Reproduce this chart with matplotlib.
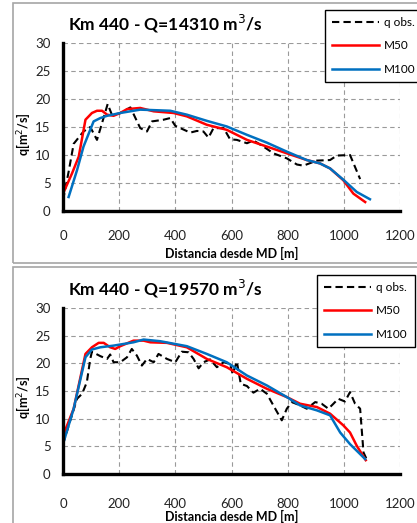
import matplotlib
matplotlib.use("Agg")
import matplotlib.pyplot as plt
from matplotlib.patches import Rectangle

plt.rcParams['font.family'] = ['Lato', 'DejaVu Sans']

# ---- data: top panel (Q=14310) ----
top_title = "Km 440 - Q=14310 m$^3$/s"
top_obs_x = [0, 20, 38, 73, 97, 121, 139, 159, 174, 200, 240, 275, 299, 317, 358, 382, 400,
             453, 477, 500, 518, 536, 572, 595, 619, 655, 678, 714, 749, 797, 833, 856, 904,
             951, 975, 1022, 1058]
top_obs_y = [1.9, 7.0, 12.0, 14.2, 15.0, 12.7, 15.7, 19.1, 17.2, 17.4, 18.5, 14.8, 14.2, 16.0,
             16.3, 16.6, 15.2, 14.0, 14.3, 14.2, 13.1, 14.8, 14.8, 12.8, 12.7, 12.1, 12.6, 11.5,
             10.3, 9.4, 8.3, 8.1, 9.0, 9.1, 9.9, 10.0, 5.7]
top_m50_x = [0, 32, 56, 80, 103, 121, 139, 157, 180, 204, 228, 275, 323, 394, 441, 512, 583,
             655, 726, 797, 868, 915, 951, 998, 1034, 1076]
top_m50_y = [3.1, 6.7, 9.7, 16.3, 17.5, 17.9, 17.9, 17.2, 17.0, 17.5, 18.2, 18.4, 17.8, 17.5,
             16.9, 15.4, 14.5, 12.7, 11.5, 10.3, 9.1, 8.5, 7.6, 5.5, 3.1, 1.6]
top_m100_x = [20, 50, 73, 97, 109, 133, 157, 204, 275, 382, 441, 512, 583, 655, 726, 797, 868,
              915, 951, 998, 1046, 1093]
top_m100_y = [2.5, 7.3, 11.5, 14.5, 16.0, 16.6, 17.0, 17.5, 18.1, 17.9, 17.2, 16.1, 15.1, 13.6,
              12.2, 10.6, 9.1, 8.5, 7.6, 5.6, 3.4, 2.1]

# ---- data: bottom panel (Q=19570) ----
bot_title = "Km 440 - Q=19570 m$^3$/s"
bot_obs_x = [0, 20, 50, 68, 85, 97, 103, 133, 157, 168, 180, 204, 228, 245, 263, 281, 299, 323,
             340, 370, 400, 423, 447, 465, 483, 500, 524, 548, 572, 595, 604, 619, 633, 655, 678,
             702, 726, 749, 779, 797, 815, 844, 868, 898, 921, 945, 963, 980, 1004, 1022, 1040,
             1058, 1070, 1081]
bot_obs_y = [5.4, 8.7, 13.6, 14.5, 16.6, 20.8, 22.1, 21.3, 20.8, 21.6, 20.2, 20.2, 21.1, 22.6,
             21.4, 19.6, 20.8, 20.2, 21.7, 20.8, 20.2, 22.1, 22.0, 20.8, 19.1, 20.2, 20.7, 19.3,
             20.2, 19.9, 18.1, 20.3, 16.3, 15.9, 14.7, 15.4, 14.5, 12.4, 9.7, 11.8, 13.0, 12.4,
             11.8, 13.0, 12.7, 11.8, 12.7, 13.6, 13.1, 14.8, 12.7, 11.8, 3.9, 2.7]
bot_m50_x = [0, 38, 80, 103, 127, 145, 168, 186, 204, 251, 287, 311, 370, 441, 512, 583, 655,
             726, 797, 844, 904, 951, 998, 1022, 1046, 1078]
bot_m50_y = [6.9, 11.8, 21.7, 22.9, 23.7, 23.7, 22.9, 22.6, 23.1, 24.1, 24.1, 23.8, 23.7, 22.9,
             20.8, 19.3, 17.2, 15.4, 13.9, 12.7, 12.1, 10.9, 8.8, 7.5, 5.1, 2.5]
bot_m100_x = [0, 38, 80, 103, 133, 180, 251, 287, 346, 441, 512, 583, 655, 726, 797, 844, 904,
              951, 987, 1022, 1052, 1076]
bot_m100_y = [5.4, 11.8, 21.1, 22.5, 22.9, 23.2, 23.8, 24.3, 24.0, 23.1, 21.7, 20.2, 17.8, 16.0,
              13.9, 12.4, 11.5, 10.6, 7.5, 5.4, 3.9, 2.7]

xticks = [0, 200, 400, 600, 800, 1000, 1200]
yticks = [0, 5, 10, 15, 20, 25, 30]
xlabel = "Distancia desde MD [m]"
ylabel = "q[m$^2$/s]"
labels = ["q obs.", "M50", "M100"]

W, H = 417, 523
fig = plt.figure(figsize=(W / 100, H / 100), dpi=100)

# panel frames
for (x0, y0, x1, y1) in [(13, 3, 430, 263), (13, 267, 430, 540)]:
    fig.add_artist(Rectangle((x0 / W, 1 - y1 / H), (x1 - x0) / W, (y1 - y0) / H,
                             transform=fig.transFigure, fill=False,
                             edgecolor='#a6a6a6', linewidth=1.2))


def make_panel(rect, title, title_y, obs, m50, m100, leg_box, xlab_y, tick_pad):
    ax = fig.add_axes(rect)
    ax.plot(obs[0], obs[1], color='black', lw=1.5, ls=(0, (3.5, 2)), label=labels[0])
    ax.plot(m50[0], m50[1], color='#ff0000', lw=1.8, label=labels[1])
    ax.plot(m100[0], m100[1], color='#0070c0', lw=1.8, label=labels[2])
    ax.set_xlim(0, 1200)
    ax.set_ylim(0, 30)
    ax.set_xticks(xticks)
    ax.set_yticks(yticks)
    ax.grid(True, color='#9a9a9a', ls=(0, (4, 3)), lw=0.8)
    ax.set_axisbelow(True)
    for s in ['top', 'right']:
        ax.spines[s].set_visible(False)
    for s in ['left', 'bottom']:
        ax.spines[s].set_linewidth(2.4)
        ax.spines[s].set_color('black')
    ax.tick_params(length=0, labelsize=9.5, colors='#222222')
    ax.tick_params(axis='x', pad=tick_pad)
    ax.tick_params(axis='y', pad=9)
    ax.set_ylabel(ylabel, fontsize=9, fontweight='bold')
    ax.yaxis.set_label_coords((32 - 63) / 337, 0.46)
    fig.text(232 / W, 1 - xlab_y / H, xlabel, fontsize=9, fontweight='bold',
             ha='center', va='center')
    fig.text(165 / W, 1 - title_y / H, title, fontsize=12.5, fontweight='bold',
             ha='center', va='center')
    x0, y0, x1, y1 = leg_box
    leg = ax.legend(loc='upper left', bbox_to_anchor=(x0 / W, 1 - y0 / H),
                    bbox_transform=fig.transFigure, fontsize=8.5, handlelength=4.0,
                    labelspacing=1.05, handletextpad=0.4, borderpad=0.6,
                    fancybox=False, framealpha=1, edgecolor='black', borderaxespad=0)
    leg.get_frame().set_linewidth(1.0)
    return ax


make_panel([63 / W, 1 - 211 / H, 337 / W, 168 / H], top_title, 24,
           (top_obs_x, top_obs_y), (top_m50_x, top_m50_y), (top_m100_x, top_m100_y),
           (325, 10, 420, 87), 253, 14)
make_panel([63 / W, 1 - 474 / H, 337 / W, 166 / H], bot_title, 289,
           (bot_obs_x, bot_obs_y), (bot_m50_x, bot_m50_y), (bot_m100_x, bot_m100_y),
           (317, 275, 420, 350), 516, 17)

fig.savefig("out.png", dpi=100)
